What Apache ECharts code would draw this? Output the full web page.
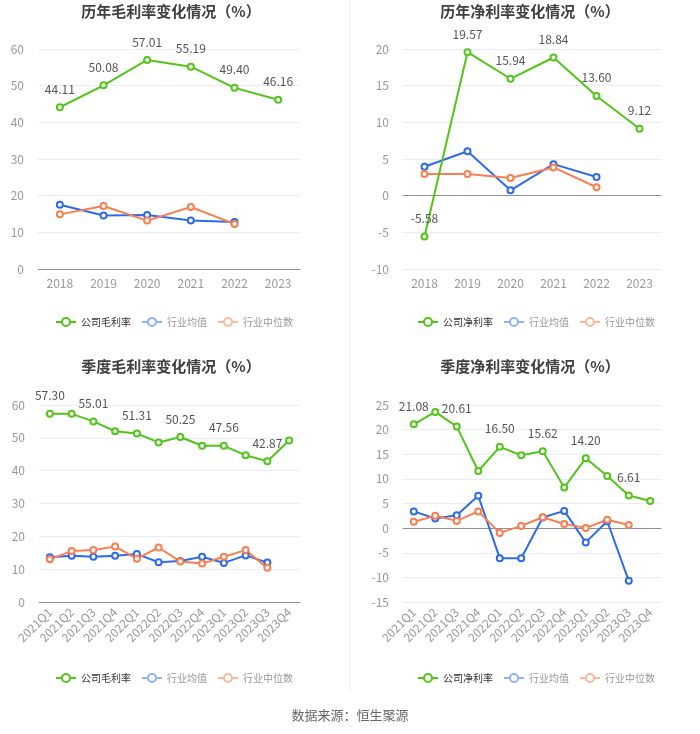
<!DOCTYPE html>
<html>
<head>
<meta charset="utf-8">
<script src="https://cdn.jsdelivr.net/npm/echarts@6/dist/echarts.min.js"></script>
<style>
  html, body { margin: 0; padding: 0; background: #fff; }
  #main { width: 700px; height: 734px; }
</style>
</head>
<body>
<div id="main"></div>
<script>
// categories
var years = ['2018', '2019', '2020', '2021', '2022', '2023'];
var quarters = ['2021Q1', '2021Q2', '2021Q3', '2021Q4', '2022Q1', '2022Q2', '2022Q3', '2022Q4', '2023Q1', '2023Q2', '2023Q3', '2023Q4'];

// 历年毛利率
var yearGross = [44.11, 50.08, 57.01, 55.19, 49.40, 46.16];
var yearGrossAvg = [17.5, 14.6, 14.7, 13.2, 12.8, null];
var yearGrossMid = [14.9, 17.2, 13.2, 16.9, 12.3, null];

// 历年净利率
var yearNet = [-5.58, 19.57, 15.94, 18.84, 13.60, 9.12];
var yearNetAvg = [3.95, 6.05, 0.73, 4.3, 2.55, null];
var yearNetMid = [2.95, 2.95, 2.4, 3.85, 1.15, null];

// 季度毛利率
var qGross = [57.30, 57.3, 55.01, 52.0, 51.31, 48.6, 50.25, 47.6, 47.56, 44.7, 42.87, 49.2];
var qGrossAvg = [13.6, 14.1, 13.8, 14.1, 14.6, 12.1, 12.5, 13.8, 11.9, 14.2, 12.0, null];
var qGrossMid = [13.0, 15.5, 15.8, 16.9, 13.2, 16.6, 12.3, 11.7, 13.8, 15.8, 10.4, null];

// 季度净利率
var qNet = [21.08, 23.6, 20.61, 11.6, 16.50, 14.8, 15.62, 8.25, 14.20, 10.6, 6.61, 5.5];
var qNetAvg = [3.4, 1.95, 2.6, 6.55, -6.1, -6.1, 2.15, 3.5, -2.9, 1.4, -10.7, null];
var qNetMid = [1.27, 2.5, 1.47, 3.4, -0.97, 0.45, 2.2, 0.85, 0.05, 1.7, 0.65, null];

var green = '#52c41a', blue = '#2f6be8', orange = '#fa7e4f';
var font = '"Noto Sans CJK SC", "Noto Sans", sans-serif';

var panels = [
    {title: '历年毛利率变化情况（%）', cx: 166, ty: -1, left: 38, right: 400, top: 49, height: 220,
     cats: years, min: 0, max: 60, step: 10, rotate: 0, name: '公司毛利率',
     data: [yearGross, yearGrossAvg, yearGrossMid], every: 1, legendLeft: 50, legendTop: 312},
    {title: '历年净利率变化情况（%）', cx: 525, ty: -1, left: 403, right: 39, top: 49, height: 220,
     cats: years, min: -10, max: 20, step: 5, rotate: 0, name: '公司净利率',
     data: [yearNet, yearNetAvg, yearNetMid], every: 1, legendLeft: 412, legendTop: 312},
    {title: '季度毛利率变化情况（%）', cx: 166, ty: 354, left: 39, right: 400, top: 405, height: 197,
     cats: quarters, min: 0, max: 60, step: 10, rotate: 45, name: '公司毛利率',
     data: [qGross, qGrossAvg, qGrossMid], every: 2, legendLeft: 50, legendTop: 668},
    {title: '季度净利率变化情况（%）', cx: 525, ty: 354, left: 403, right: 39, top: 405, height: 197,
     cats: quarters, min: -15, max: 25, step: 5, rotate: 45, name: '公司净利率',
     data: [qNet, qNetAvg, qNetMid], every: 2, legendLeft: 412, legendTop: 668}
];

var titles = [], grids = [], xAxes = [], yAxes = [], legends = [], series = [];

panels.forEach(function (p, i) {
    titles.push({
        text: p.title, left: p.cx, top: p.ty, textAlign: 'center',
        textStyle: {fontSize: 15, fontWeight: 'bold', color: '#404040', fontFamily: font}
    });
    grids.push({left: p.left, right: p.right, top: p.top, height: p.height, containLabel: false});
    xAxes.push({
        type: 'category', gridIndex: i, data: p.cats, boundaryGap: true,
        axisLine: {lineStyle: {color: '#8a8f99'}},
        axisTick: {alignWithLabel: true, lineStyle: {color: '#8a8f99'}},
        axisLabel: {color: '#999', fontSize: 12, rotate: p.rotate, interval: 0, margin: 8, fontFamily: font}
    });
    yAxes.push({
        type: 'value', gridIndex: i, min: p.min, max: p.max, interval: p.step,
        axisLine: {show: false}, axisTick: {show: false},
        axisLabel: {color: '#999', fontSize: 12, margin: 14, fontFamily: font},
        splitLine: {lineStyle: {color: '#e9edf5'}}
    });
    legends.push({
        top: p.legendTop, left: p.legendLeft, orient: 'horizontal',
        itemWidth: 20, itemHeight: 10, itemGap: 10,
        textStyle: {fontSize: 10, fontFamily: font},
        data: [
            {name: p.name, textStyle: {color: '#333'}},
            {name: '行业均值', textStyle: {color: '#999'},
             itemStyle: {color: '#8fb2f5'}, lineStyle: {color: '#8fb2f5'}},
            {name: '行业中位数', textStyle: {color: '#999'},
             itemStyle: {color: '#fbb9a0'}, lineStyle: {color: '#fbb9a0'}}
        ]
    });
    var names = [p.name, '行业均值', '行业中位数'];
    var colors = [green, blue, orange];
    p.data.forEach(function (arr, k) {
        var s = {
            name: names[k], type: 'line', xAxisIndex: i, yAxisIndex: i, data: arr,
            symbol: 'emptyCircle', symbolSize: 6, z: k === 0 ? 3 : 2,
            lineStyle: {width: 2, color: colors[k]},
            itemStyle: {color: colors[k], borderWidth: 2}
        };
        if (k === 0) {
            var every = p.every;
            s.label = {
                show: true, position: 'top', distance: 8, color: '#555', fontSize: 12, fontFamily: font,
                formatter: function (d) {
                    return d.dataIndex % every === 0 ? d.value.toFixed(2) : '';
                }
            };
        }
        series.push(s);
    });
});

var chart = echarts.init(document.getElementById('main'));
chart.setOption({
    animation: false,
    textStyle: {fontFamily: font},
    title: titles,
    grid: grids,
    xAxis: xAxes,
    yAxis: yAxes,
    legend: legends,
    series: series,
    graphic: [
        {type: 'line', shape: {x1: 350, y1: 0, x2: 350, y2: 692}, style: {stroke: '#eeeeee', lineWidth: 1}},
        {type: 'text', left: 'center', top: 709,
         style: {text: '数据来源：恒生聚源', fill: '#666', fontSize: 13, fontFamily: font}}
    ]
});
</script>
</body>
</html>
